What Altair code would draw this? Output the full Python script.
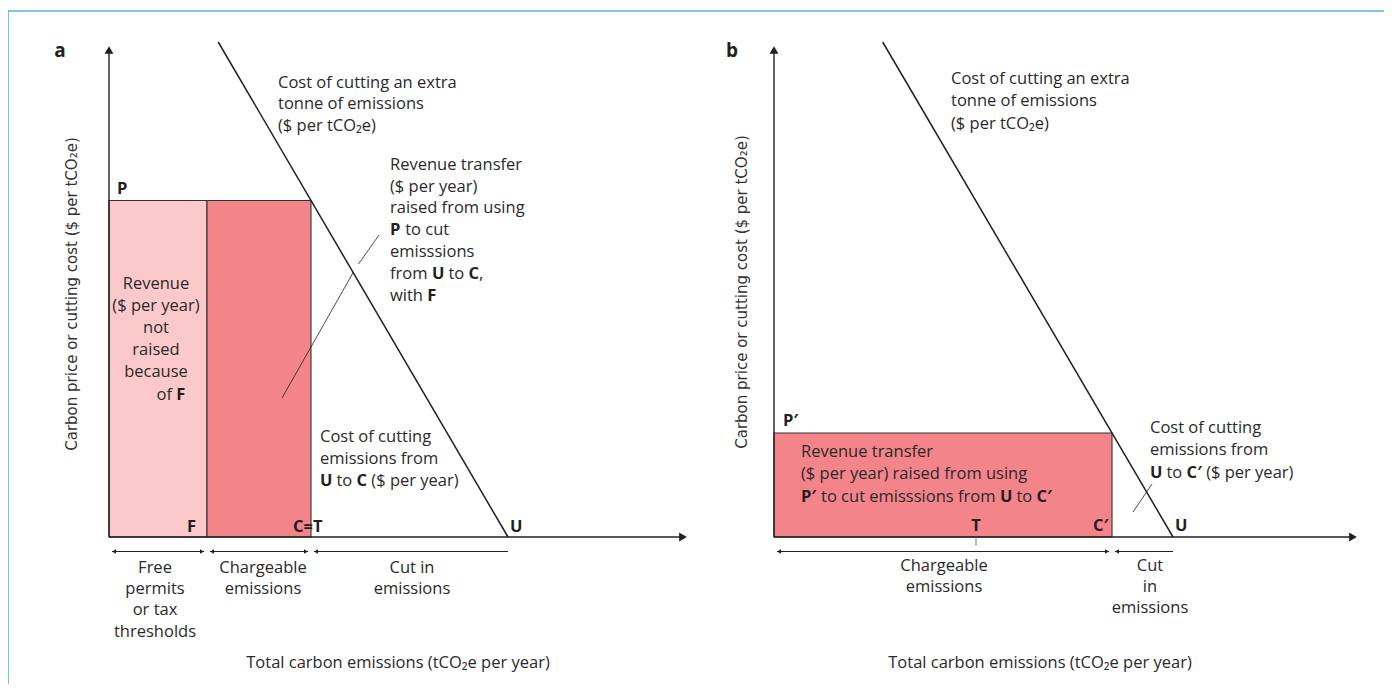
import altair as alt
import pandas as pd

# ---------------- diagram data (emission units along x, price units along y) ----------------
panels = ["a", "b"]
U_unabated = [399, 399]      # emissions with no carbon price (U)
T_threshold = [202, 202]     # threshold T
F_free = [98, 0]             # free permits / tax thresholds F (panel a only)
P_price = [336.5, 104]       # carbon price P, P'
C_after_cut = [202, 338]     # emissions after cut C, C'
MAC_top = [495, 495]         # price at upper end of cost curve

# ---------------- layout (page pixels) ----------------
ORIGIN_X = [109, 774]
ORIGIN_Y = 537
AXIS_TOP = 45
AXIS_RIGHT = [688, 1358]
BRACKET_Y = 551.5

INK = "#231f20"
TXT = "#2a2a2a"
LIGHT = "#fbc9c9"
DARK = "#f2848a"
FRAME = "#4fb4dd"
FONT = "Open Sans"
FS = 16.5


def ex(p, e):
    return ORIGIN_X[p] + e


def py(v):
    return ORIGIN_Y - v


# ---------- rough Open Sans advance widths (units per 2048 em) ----------
W_REG = {" ": 532, "$": 1171, "(": 606, ")": 606, ",": 502, "=": 1171, "′": 520, "₂": 720,
         "C": 1292, "F": 1057, "P": 1233, "T": 1133, "U": 1491,
         "a": 1139, "b": 1255, "c": 975, "d": 1255, "e": 1149, "f": 694, "g": 1122, "h": 1257,
         "i": 518, "l": 518, "m": 1905, "n": 1257, "o": 1237, "p": 1255, "r": 836, "s": 977,
         "t": 723, "u": 1257, "w": 1593, "x": 1073, "y": 1028}
W_BOLD = {" ": 532, "C": 1300, "F": 1139, "P": 1352, "T": 1227, "U": 1511, "′": 600, "=": 1171}


def tw(s, bold):
    tab = W_BOLD if bold else W_REG
    return sum(tab.get(ch, 1100) for ch in s) / 2048 * FS


def rich(x, y, parts, anchor="left"):
    total = sum(tw(t, b) for t, b in parts)
    if anchor == "center":
        x -= total / 2
    elif anchor == "right":
        x -= total
    rows = []
    for t, b in parts:
        lead = len(t) - len(t.lstrip(" "))
        rows.append(dict(x=x + tw(" " * lead, b), y=y, text=t.strip(" "), bold=b))
        x += tw(t, b)
    return rows


# ---------------- rectangles ----------------
rect_rows = []
for p in range(2):
    if F_free[p] > 0:
        rect_rows.append(dict(x=ex(p, 0), x2=ex(p, F_free[p]), y=py(0), y2=py(P_price[p]), fill=LIGHT))
    rect_rows.append(dict(x=ex(p, F_free[p]), x2=ex(p, C_after_cut[p]), y=py(0), y2=py(P_price[p]), fill=DARK))
rects = pd.DataFrame(rect_rows)

# ---------------- lines ----------------
rule_rows = []
# frame
rule_rows.append(dict(x=8, y=11, x2=8, y2=700, color=FRAME, sw=1.6))
rule_rows.append(dict(x=8, y=11, x2=1394, y2=11, color=FRAME, sw=1.6))
for p in range(2):
    # axes
    rule_rows.append(dict(x=ex(p, 0), y=py(0), x2=ex(p, 0), y2=AXIS_TOP + 6, color=INK, sw=1.4))
    rule_rows.append(dict(x=ex(p, 0), y=py(0), x2=AXIS_RIGHT[p] - 6, y2=py(0), color=INK, sw=1.4))
    # marginal abatement cost curve
    slope = P_price[p] / (U_unabated[p] - C_after_cut[p])
    e_top = U_unabated[p] - MAC_top[p] / slope
    rule_rows.append(dict(x=ex(p, e_top), y=py(MAC_top[p]), x2=ex(p, U_unabated[p]), y2=py(0), color=INK, sw=1.5))

# leader lines
rule_rows.append(dict(x=379, y=235, x2=358.5, y2=264, color=INK, sw=0.8))
rule_rows.append(dict(x=353.5, y=272, x2=282, y2=398, color=INK, sw=0.8))
rule_rows.append(dict(x=1133, y=512, x2=1152, y2=484, color=INK, sw=0.8))
# T tick in panel b
rule_rows.append(dict(x=ex(1, T_threshold[1]), y=py(0), x2=ex(1, T_threshold[1]), y2=py(0) + 9, color="#777777", sw=1))

# brackets under the axis
brackets = [
    (0, 0, F_free[0], True, True),
    (0, F_free[0], C_after_cut[0], True, True),
    (0, C_after_cut[0], U_unabated[0], True, False),
    (1, 0, C_after_cut[1], True, True),
    (1, C_after_cut[1], U_unabated[1], True, False),
]
pt_rows = []
for p, a, b, left, right in brackets:
    xa = ex(p, a) + 3
    xb = ex(p, b) - 3 if right else ex(p, b)
    rule_rows.append(dict(x=xa, y=BRACKET_Y, x2=xb, y2=BRACKET_Y, color=INK, sw=1))
    if left:
        pt_rows.append(dict(x=xa + 2, y=BRACKET_Y, shape="triangle-left", size=22))
    if right:
        pt_rows.append(dict(x=xb - 2, y=BRACKET_Y, shape="triangle-right", size=22))
rules = pd.DataFrame(rule_rows)

for p in range(2):
    pt_rows.append(dict(x=ex(p, 0), y=AXIS_TOP + 5, shape="triangle-up", size=80))
    pt_rows.append(dict(x=AXIS_RIGHT[p] - 5, y=py(0), shape="triangle-right", size=80))
pts = pd.DataFrame(pt_rows)

# ---------------- text ----------------
left_rows = []
for t, x, y in [
    ("Cost of cutting an extra", 278, 83), ("tonne of emissions", 278, 104), ("($ per tCO₂e)", 278, 126),
    ("Revenue transfer", 390, 165), ("($ per year)", 390, 187), ("raised from using", 390, 208),
    ("emisssions", 390, 252),
    ("Cost of cutting", 320, 437), ("emissions from", 320, 459),
    ("Cost of cutting an extra", 951, 79), ("tonne of emissions", 951, 101), ("($ per tCO₂e)", 951, 124),
    ("Revenue transfer", 801, 452), ("($ per year) raised from using", 801, 474),
    ("Cost of cutting", 1150, 428), ("emissions from", 1150, 450),
]:
    left_rows.append(dict(x=x, y=y, text=t, bold=False))

mixed = []
mixed += rich(390, 230, [("P", True), (" to cut", False)])
mixed += rich(390, 274, [("from ", False), ("U", True), (" to ", False), ("C", True), (",", False)])
mixed += rich(390, 296, [("with ", False), ("F", True)])
mixed += rich(171, 395, [("of ", False), ("F", True)], anchor="center")
mixed += rich(320, 481, [("U", True), (" to ", False), ("C", True), (" ($ per year)", False)])
mixed += rich(801, 497, [("P′", True), (" to cut emisssions from ", False), ("U", True), (" to ", False), ("C′", True)])
mixed += rich(1150, 473, [("U", True), (" to ", False), ("C′", True), (" ($ per year)", False)])
# point labels
mixed += [dict(x=117, y=189, text="P", bold=True), dict(x=187, y=527, text="F", bold=True),
          dict(x=293, y=527, text="C=T", bold=True), dict(x=510, y=527, text="U", bold=True),
          dict(x=783, y=421, text="P′", bold=True), dict(x=1093, y=526, text="C′", bold=True),
          dict(x=1175, y=526, text="U", bold=True)]

all_left = pd.DataFrame(left_rows + mixed)
reg_left = all_left[~all_left["bold"]]
bold_left = all_left[all_left["bold"]]

center_rows = []
for t, x, y in [
    ("Revenue", 156, 284), ("($ per year)", 156, 306), ("not", 156, 328), ("raised", 156, 350),
    ("because", 156, 372),
    ("Free", 155, 568), ("permits", 155, 589), ("or tax", 155, 610), ("thresholds", 155, 632),
    ("Chargeable", 263, 568), ("emissions", 263, 589),
    ("Cut in", 412, 568), ("emissions", 412, 589),
    ("Chargeable", 944, 566), ("emissions", 944, 587),
    ("Cut", 1150, 566), ("in", 1150, 587), ("emissions", 1150, 608),
    ("Total carbon emissions (tCO₂e per year)", 398, 663),
    ("Total carbon emissions (tCO₂e per year)", 1040, 663),
]:
    center_rows.append(dict(x=x, y=y, text=t))
reg_center = pd.DataFrame(center_rows)
bold_center = pd.DataFrame([dict(x=ex(1, T_threshold[1]), y=526, text="T")])
letters = pd.DataFrame([dict(x=60, y=51, text=panels[0]), dict(x=732, y=51, text=panels[1])])
ytitles = pd.DataFrame([dict(x=72, y=294, text="Carbon price or cutting cost ($ per tCO₂e)"),
                        dict(x=742, y=292, text="Carbon price or cutting cost ($ per tCO₂e)")])

# ---------------- chart ----------------
X = alt.X("x:Q", scale=alt.Scale(domain=[8, 1384], nice=False, zero=False), axis=None)
Y = alt.Y("y:Q", scale=alt.Scale(domain=[8, 684], nice=False, zero=False, reverse=True), axis=None)

rect_layer = alt.Chart(rects).mark_rect(stroke="#333333", strokeWidth=1.1).encode(
    x=X, x2="x2:Q", y=Y, y2="y2:Q", fill=alt.Fill("fill:N", scale=None))
rule_layer = alt.Chart(rules).mark_rule().encode(
    x=X, y=Y, x2="x2:Q", y2="y2:Q",
    color=alt.Color("color:N", scale=None), strokeWidth=alt.StrokeWidth("sw:Q", scale=None))
pt_layer = alt.Chart(pts).mark_point(filled=True, opacity=1, color=INK, strokeWidth=0).encode(
    x=X, y=Y, shape=alt.Shape("shape:N", scale=None), size=alt.Size("size:Q", scale=None))


def txt(df, align, bold=False, font=FONT, size=FS, angle=None, color=TXT):
    kw = dict(align=align, baseline="middle", font=font, fontSize=size, color=color,
              fontWeight="bold" if bold else "normal")
    if angle is not None:
        kw["angle"] = angle
    return alt.Chart(df).mark_text(**kw).encode(x=X, y=Y, text="text:N")


layers = [
    rect_layer, rule_layer, pt_layer,
    txt(reg_left, "left"),
    txt(bold_left, "left", bold=True, color=INK),
    txt(reg_center, "center"),
    txt(bold_center, "center", bold=True, color=INK),
    txt(letters, "center", bold=True, size=19, color=INK),
    txt(ytitles, "center", font="DejaVu Sans", size=15, angle=270, color="#333333"),
]

chart = alt.layer(*layers).properties(
    width=1376, height=676, padding=0, background="white",
    autosize=alt.AutoSizeParams(type="none"),
).configure_view(stroke=None)

chart.save("out.html", embed_options={"renderer": "svg", "actions": False})
